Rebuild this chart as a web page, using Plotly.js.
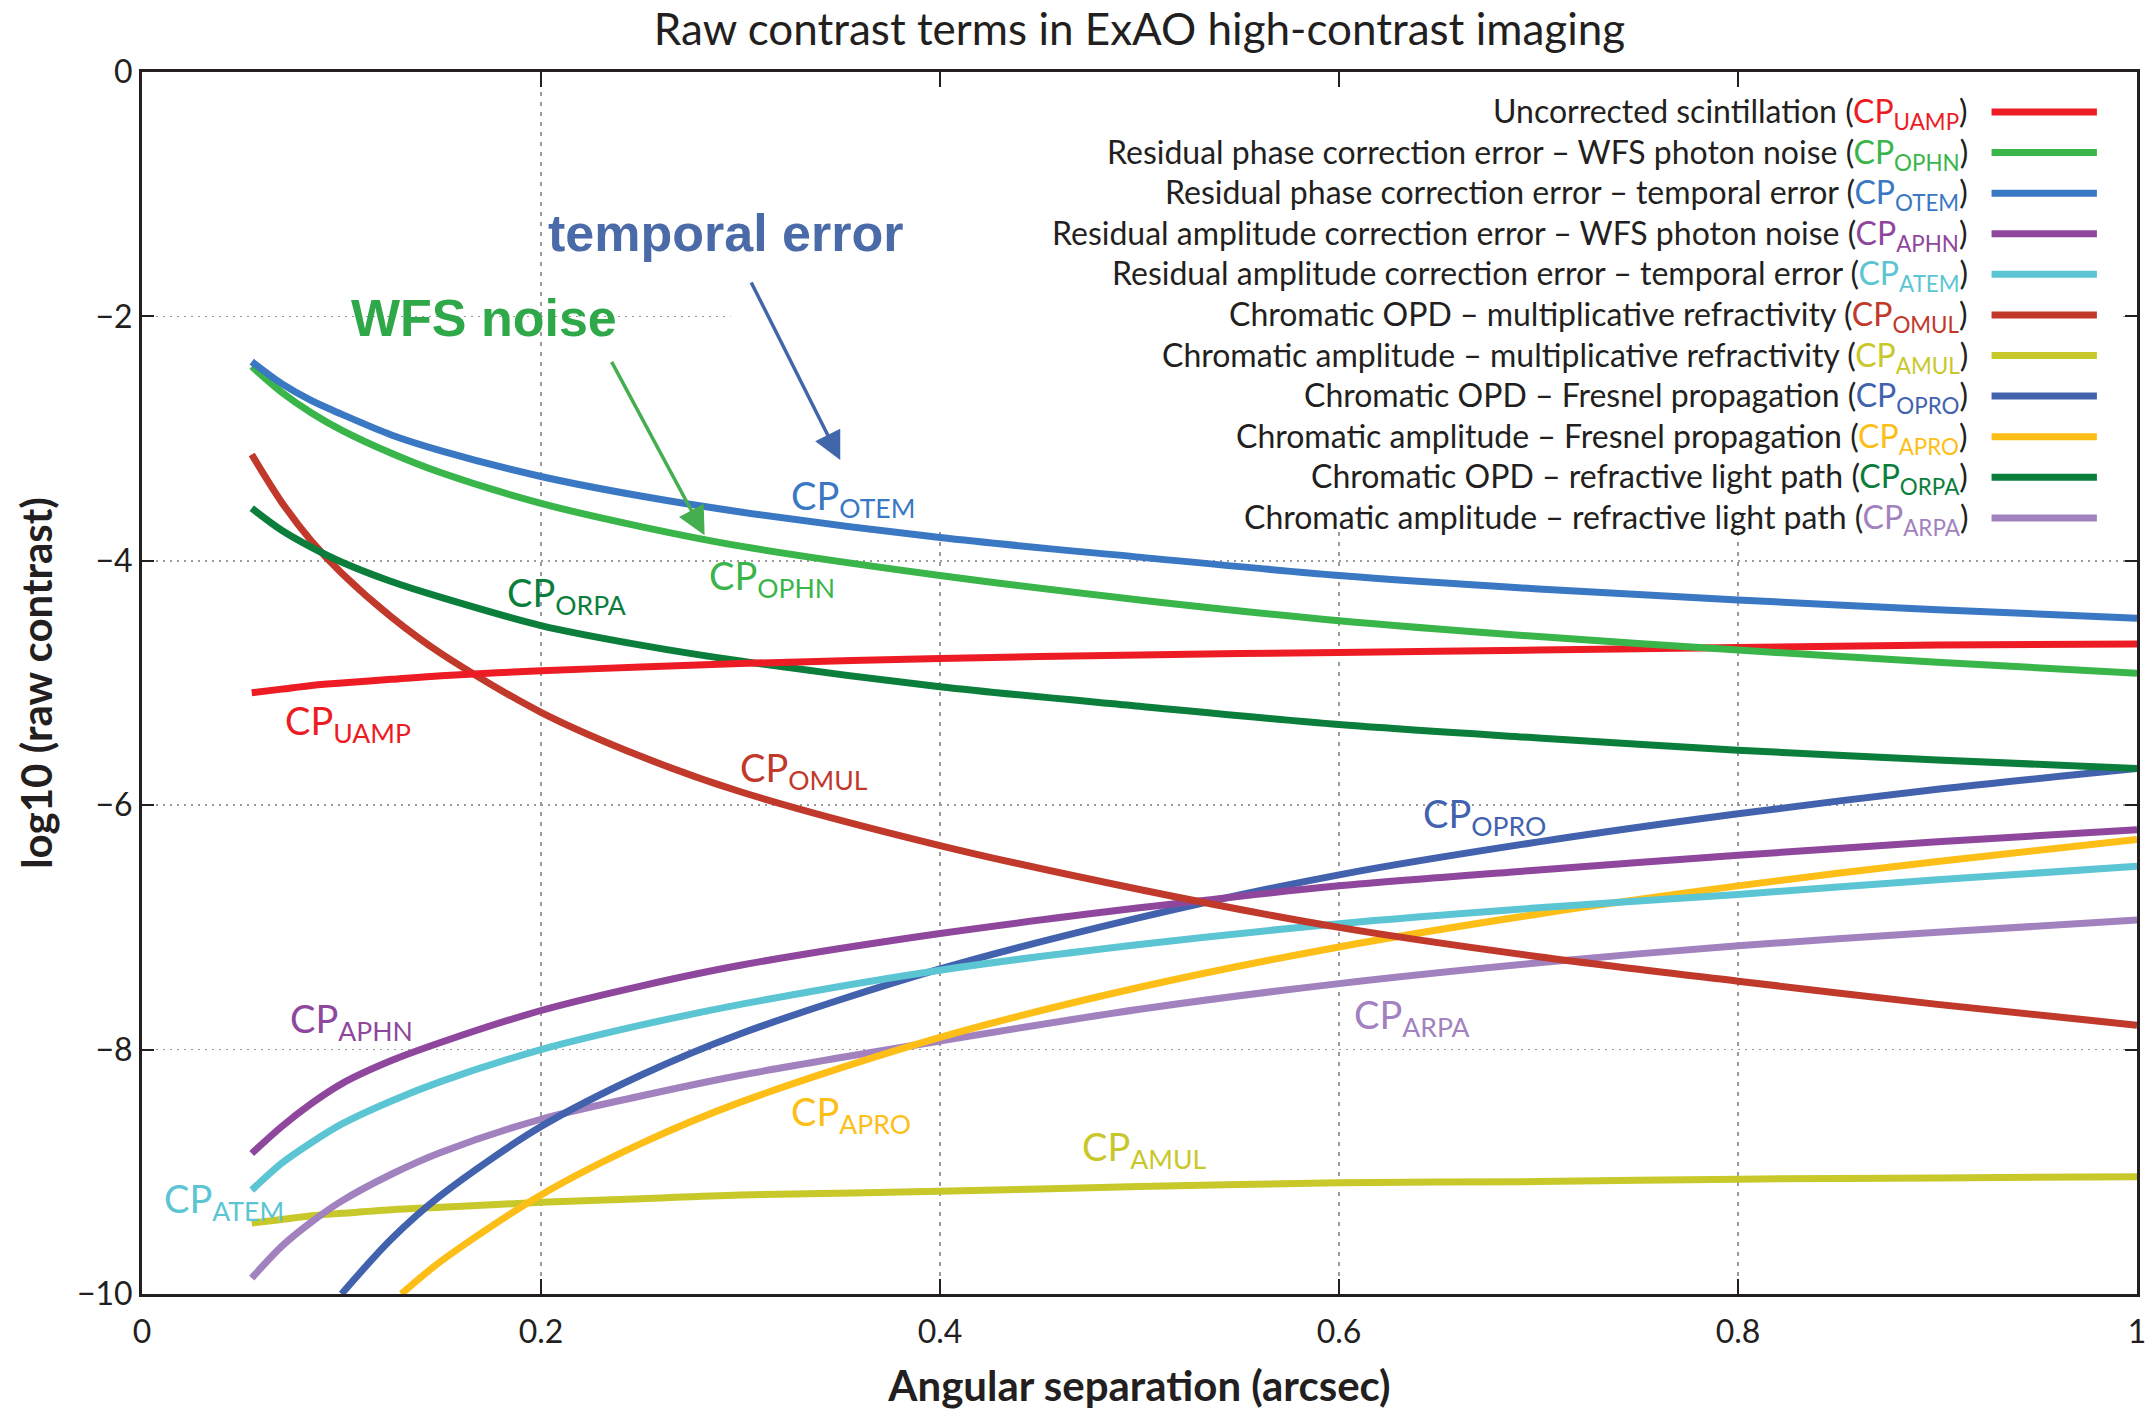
<!DOCTYPE html>
<html>
<head>
<meta charset="utf-8">
<script src="https://cdn.plot.ly/plotly-3.0.1.min.js"></script>
<style>html,body{margin:0;padding:0;background:#fff;}</style>
</head>
<body>
<div id="chart" style="width:2152px;height:1410px;"></div>
<script>
// ---- data (log10 raw contrast vs angular separation, arcsec) ----
const sep = [0.055, 0.07, 0.085, 0.1, 0.125, 0.15, 0.2, 0.25, 0.3, 0.4, 0.5, 0.6, 0.7, 0.8, 0.9, 1.0];
const cpUAMP = [-5.08,-5.05,-5.02,-5.00,-4.97,-4.94,-4.90,-4.87,-4.84,-4.80,-4.77,-4.75,-4.73,-4.71,-4.69,-4.68];
const cpOPHN = [-2.41,-2.62,-2.79,-2.93,-3.12,-3.28,-3.53,-3.72,-3.88,-4.12,-4.32,-4.49,-4.62,-4.73,-4.83,-4.92];
const cpOTEM = [-2.37,-2.55,-2.69,-2.80,-2.97,-3.10,-3.31,-3.47,-3.60,-3.81,-3.97,-4.12,-4.23,-4.32,-4.40,-4.47];
const cpAPHN = [-8.85,-8.63,-8.44,-8.28,-8.09,-7.94,-7.68,-7.48,-7.31,-7.05,-6.84,-6.66,-6.53,-6.41,-6.30,-6.20];
const cpATEM = [-9.15,-8.93,-8.76,-8.61,-8.42,-8.26,-8.00,-7.80,-7.63,-7.35,-7.14,-6.97,-6.84,-6.73,-6.61,-6.50];
const cpOMUL = [-3.13,-3.52,-3.84,-4.10,-4.46,-4.76,-5.24,-5.60,-5.89,-6.33,-6.69,-7.00,-7.24,-7.44,-7.63,-7.80];
const cpAMUL = [-9.42,-9.39,-9.36,-9.34,-9.31,-9.29,-9.25,-9.22,-9.19,-9.16,-9.12,-9.09,-9.08,-9.06,-9.05,-9.04];
const cpORPA = [-3.57,-3.75,-3.89,-4.01,-4.17,-4.30,-4.53,-4.69,-4.82,-5.03,-5.19,-5.34,-5.45,-5.55,-5.63,-5.70];
const cpARPA = [-9.87,-9.61,-9.41,-9.24,-9.02,-8.84,-8.57,-8.38,-8.21,-7.93,-7.67,-7.46,-7.29,-7.15,-7.04,-6.94];
const sepOPRO = [0.1, 0.125, 0.15, 0.2, 0.25, 0.3, 0.4, 0.5, 0.6, 0.7, 0.8, 0.9, 1.0];
const cpOPRO = [-10.00,-9.55,-9.19,-8.63,-8.21,-7.87,-7.34,-6.92,-6.57,-6.30,-6.07,-5.87,-5.70];
const sepAPRO = [0.13, 0.15, 0.2, 0.25, 0.3, 0.4, 0.5, 0.6, 0.7, 0.8, 0.9, 1.0];
const cpAPRO = [-10.00,-9.73,-9.19,-8.77,-8.43,-7.90,-7.49,-7.16,-6.89,-6.66,-6.46,-6.28];

const codes = ["UAMP","OPHN","OTEM","APHN","ATEM","OMUL","AMUL","OPRO","APRO","ORPA","ARPA"];
const names = [
  "Uncorrected scintillation",
  "Residual phase correction error – WFS photon noise",
  "Residual phase correction error – temporal error",
  "Residual amplitude correction error – WFS photon noise",
  "Residual amplitude correction error – temporal error",
  "Chromatic OPD – multiplicative refractivity",
  "Chromatic amplitude – multiplicative refractivity",
  "Chromatic OPD – Fresnel propagation",
  "Chromatic amplitude – Fresnel propagation",
  "Chromatic OPD – refractive light path",
  "Chromatic amplitude – refractive light path"
];
const colors = ["#ED1C24","#39B54A","#3A78C3","#8E479C","#5BC5D3","#C1392B","#C8C82A","#4262AE","#FDBF17","#0B7E3C","#A182BF"];
const xs = [sep, sep, sep, sep, sep, sep, sep, sepOPRO, sepAPRO, sep, sep];
const ys = [cpUAMP, cpOPHN, cpOTEM, cpAPHN, cpATEM, cpOMUL, cpAMUL, cpOPRO, cpAPRO, cpORPA, cpARPA];

// label placement (data coords of left edge / vertical middle)
const labelX = [0.0705, 0.2831, 0.3244, 0.0733, 0.0100, 0.2989, 0.4702, 0.6409, 0.3244, 0.1820, 0.6065];
const labelY = [-5.33, -4.14, -3.49, -7.77, -9.24, -5.71, -8.81, -6.09, -8.53, -4.28, -7.73];

const xTicks = [0, 0.2, 0.4, 0.6, 0.8, 1];
const xTickText = ["0", "0.2", "0.4", "0.6", "0.8", "1"];
const yTicks = [0, -2, -4, -6, -8, -10];

// ---- traces ----
const drawOrder = [6, 10, 8, 7, 4, 3, 5, 9, 0, 1, 2];
const traces = drawOrder.map(i => ({
  type: "scatter", mode: "lines",
  x: xs[i], y: ys[i], name: "CP" + codes[i],
  line: {color: colors[i], width: 7, shape: "spline", smoothing: 0.9},
  showlegend: false, hoverinfo: "x+y+name"
}));

const FONT = "Lato, 'Open Sans', sans-serif";
const BOLDFONT = "'Liberation Sans', Arial, sans-serif";
const TXT = "#231F20";

const annotations = [];
const shapes = [];

// white box behind legend
shapes.push({type: "rect", xref: "x", yref: "y", x0: 0.295, x1: 0.991, y0: -0.15, y1: -3.75,
  fillcolor: "#ffffff", line: {width: 0}, layer: "between"});

// curve labels
codes.forEach((c, i) => {
  annotations.push({
    x: labelX[i], y: labelY[i], xref: "x", yref: "y", xanchor: "left", yanchor: "middle",
    text: "CP<sub>" + c + "</sub>", showarrow: false,
    font: {family: FONT, size: 38, color: colors[i]}
  });
});

// legend (text right-aligned, line sample on the right)
const legTextX = 0.9163, legLine0 = 0.9271, legLine1 = 0.9799;
const legY0 = -0.327, legStep = 0.3322;
codes.forEach((c, i) => {
  const y = legY0 - legStep * i;
  annotations.push({
    x: legTextX, y: y, xref: "x", yref: "y", xanchor: "right", yanchor: "middle", yshift: -1,
    text: names[i] + " (<span style='color:" + colors[i] + "'>CP<sub>" + c + "</sub></span>)",
    showarrow: false, font: {family: FONT, size: 32, color: TXT}
  });
  shapes.push({type: "line", xref: "x", yref: "y", x0: legLine0, x1: legLine1, y0: y, y1: y,
    line: {color: colors[i], width: 7}, layer: "above"});
});

// callouts
annotations.push({x: 0.2923, y: -1.32, xref: "x", yref: "y", xanchor: "center", yanchor: "middle",
  text: "<b>temporal error</b>", showarrow: false,
  font: {family: BOLDFONT, size: 52, color: "#4A6BA8"}});
annotations.push({x: 0.1714, y: -2.01, xref: "x", yref: "y", xanchor: "center", yanchor: "middle",
  text: "<b>WFS noise</b>", showarrow: false,
  font: {family: BOLDFONT, size: 52, color: "#2FA84A"}});
annotations.push({x: 0.350, y: -3.175, xref: "x", yref: "y", axref: "x", ayref: "y",
  ax: 0.305, ay: -1.71, text: "", showarrow: true, arrowhead: 2, arrowsize: 1.6,
  arrowwidth: 3.5, arrowcolor: "#4167AA"});
annotations.push({x: 0.282, y: -3.79, xref: "x", yref: "y", axref: "x", ayref: "y",
  ax: 0.235, ay: -2.36, text: "", showarrow: true, arrowhead: 2, arrowsize: 1.6,
  arrowwidth: 3.5, arrowcolor: "#45AF4F"});

const layout = {
  width: 2152, height: 1410,
  margin: {l: 142, r: 15, t: 72, b: 116},
  paper_bgcolor: "#ffffff", plot_bgcolor: "#ffffff",
  font: {family: FONT, color: TXT},
  title: {text: "Raw contrast terms in ExAO high-contrast imaging",
    font: {family: FONT, size: 44, color: TXT},
    x: 0.5, xanchor: "center", xref: "paper", y: 0.979, yanchor: "middle"},
  xaxis: {
    range: [0, 1], tickvals: xTicks, ticktext: xTickText,
    ticks: "inside", ticklen: 15, tickwidth: 2, tickcolor: TXT,
    showline: true, linewidth: 3, linecolor: TXT, mirror: "ticks",
    showgrid: true, gridcolor: "#9a9a9a", gridwidth: 1.5, griddash: "4px,6px",
    zeroline: false, tickfont: {family: FONT, size: 32, color: TXT}, ticklabelstandoff: 8,
    title: {text: "<b>Angular separation (arcsec)</b>", font: {family: FONT, size: 42, color: TXT}, standoff: 26},
    automargin: false
  },
  yaxis: {
    range: [-10, 0], tickvals: yTicks,
    ticks: "inside", ticklen: 12, tickwidth: 2, tickcolor: TXT,
    showline: true, linewidth: 3, linecolor: TXT, mirror: "ticks",
    showgrid: true, gridcolor: "#9a9a9a", gridwidth: 1.5, griddash: "2px,5px",
    zeroline: false, tickfont: {family: FONT, size: 32, color: TXT},
    title: {text: "<b>log10 (raw contrast)</b>", font: {family: FONT, size: 42, color: TXT}, standoff: 12},
    automargin: false
  },
  shapes: shapes,
  annotations: annotations,
  showlegend: false
};

Plotly.newPlot("chart", traces, layout, {displayModeBar: false, staticPlot: true});
</script>
</body>
</html>
